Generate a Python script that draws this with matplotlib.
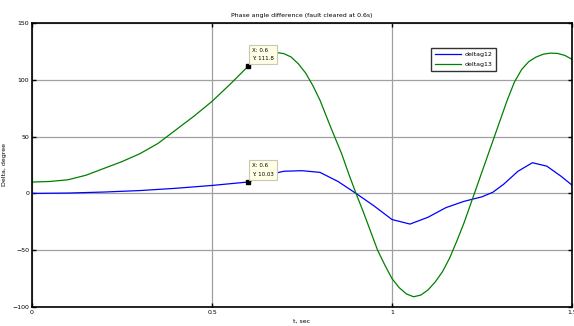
import numpy as np
import matplotlib
matplotlib.use("Agg")
import matplotlib.pyplot as plt

# values
t13 = [0, 0.05, 0.1, 0.15, 0.2, 0.25, 0.3, 0.35, 0.4, 0.45, 0.5, 0.55, 0.6, 0.64,
       0.68, 0.7, 0.72, 0.74, 0.76, 0.78, 0.8, 0.83, 0.86, 0.88, 0.9, 0.92, 0.94,
       0.96, 0.98, 1.0, 1.02, 1.04, 1.06, 1.08, 1.1, 1.12, 1.14, 1.16, 1.18, 1.2,
       1.22, 1.24, 1.26, 1.28, 1.3, 1.32, 1.34, 1.36, 1.38, 1.4, 1.42, 1.44, 1.46,
       1.48, 1.5]
d13 = [10, 10.5, 12, 16, 22, 28, 35, 44, 56, 68, 81, 96, 111.8, 121,
       124, 123, 120, 114, 106, 95, 82, 58, 35, 17, 0, -16, -33,
       -50, -63, -75, -83, -88.5, -91, -89.5, -85, -78, -69, -57, -42, -26,
       -8, 10, 28, 46, 64, 82, 98, 109, 116, 120, 122.5, 123.5, 123.2,
       121.5, 118]

t12 = [0, 0.1, 0.2, 0.3, 0.4, 0.5, 0.6, 0.65, 0.7, 0.75, 0.8, 0.85, 0.9, 0.95,
       1.0, 1.05, 1.1, 1.15, 1.2, 1.25, 1.28, 1.31, 1.35, 1.39, 1.43, 1.47, 1.5]
d12 = [0, 0.3, 1.2, 2.5, 4.5, 7, 10.03, 16, 19.5, 20, 18.5, 10.5, 0, -11,
       -23, -27, -21, -12.5, -7, -3, 1, 8, 19.5, 27, 24, 15, 7.3]

xticks = [0, 0.5, 1, 1.5]
xtick_labels = ["0", "0.5", "1", "1.5"]
yticks = [-100, -50, 0, 50, 100, 150]

fig = plt.figure(figsize=(5.74, 3.26), dpi=100)
ax = fig.add_axes([32 / 574, 1 - 307 / 326, 540 / 574, 284 / 326])

ax.plot(t12, d12, color="#0000ff", lw=0.9, label="deltag12")
ax.plot(t13, d13, color="#008000", lw=0.9, label="deltag13")

ax.set_xlim(0, 1.5)
ax.set_ylim(-100, 150)
ax.set_xticks(xticks)
ax.set_xticklabels(xtick_labels)
ax.set_yticks(yticks)
ax.grid(True, color="#a0a0a0", lw=0.9)
ax.set_axisbelow(True)
ax.tick_params(direction="in", labelsize=4.5, length=3, width=1, pad=2,
               right=True, top=True)
for s in ax.spines.values():
    s.set_linewidth(1.2)

ax.set_title("Phase angle difference (fault cleared at 0.6s)", fontsize=4.5, pad=4)
ax.set_xlabel("t, sec", fontsize=4.5, labelpad=3)
ax.set_ylabel("Delta, degree", fontsize=4.5, labelpad=4)

leg = ax.legend(loc="upper left", bbox_to_anchor=(0.739, 0.912), borderaxespad=0,
                fontsize=4.5, frameon=True, fancybox=False, handlelength=4.2,
                borderpad=0.6, labelspacing=0.7, handletextpad=0.6)
leg.get_frame().set_edgecolor("black")
leg.get_frame().set_linewidth(1)

# data tips
for x, y in [(0.6, 111.8), (0.6, 10.03)]:
    ax.plot([x], [y], marker="s", color="black", ms=3.5, zorder=6)
    ax.annotate("X: 0.6\nY: %g" % y, xy=(x, y), xytext=(x + 0.012, y + 4.5),
                fontsize=4, ha="left", va="bottom", linespacing=1.9, zorder=7,
                bbox=dict(boxstyle="square,pad=0.55", fc="#ffffe6", ec="#c8c8b4", lw=0.8))

fig.savefig("out.png", dpi=100)
